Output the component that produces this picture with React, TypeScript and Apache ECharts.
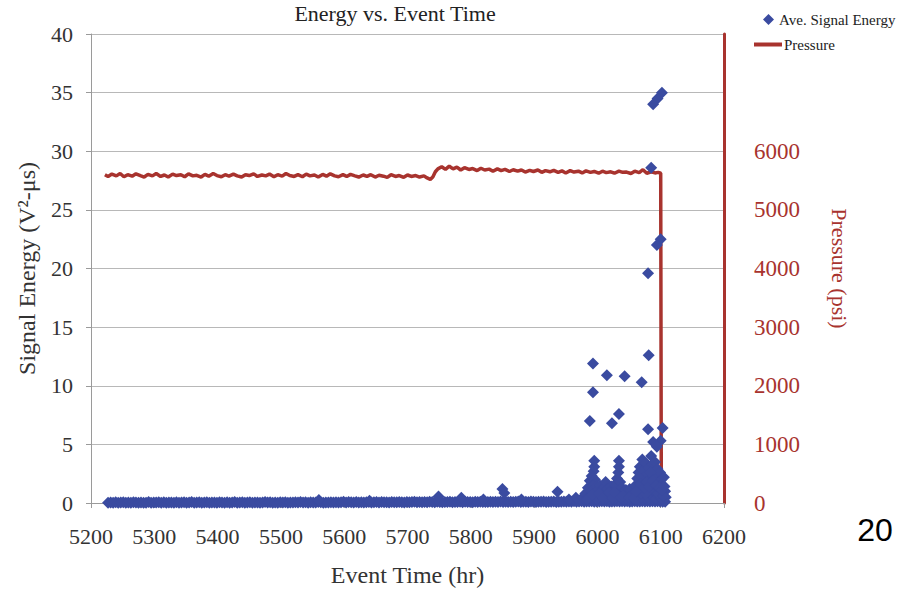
import React, { useEffect, useRef } from "react";
import * as echarts from "echarts";

const SERIF = "'Liberation Serif', 'Times New Roman', serif";
const SANS = "'Liberation Sans', Arial, sans-serif";
const BLUE = "#3a4ba0";
const RED = "#a8332e";

// Event time axis ticks (hr)
const timeTicks = [5200, 5300, 5400, 5500, 5600, 5700, 5800, 5900, 6000, 6100, 6200];

// Continuous background of low-energy hits
const bandTimes = [
  5227, 5231, 5235, 5239, 5243, 5247, 5251, 5255, 5259, 5263, 5267, 5271, 5275, 5279, 5283,
  5287, 5291, 5295, 5299, 5303, 5307, 5311, 5315, 5319, 5323, 5327, 5331, 5335, 5339, 5343,
  5347, 5351, 5355, 5359, 5363, 5367, 5371, 5375, 5379, 5383, 5387, 5391, 5395, 5399, 5403,
  5407, 5411, 5415, 5419, 5423, 5427, 5431, 5435, 5439, 5443, 5447, 5451, 5455, 5459, 5463,
  5467, 5471, 5475, 5479, 5483, 5487, 5491, 5495, 5499, 5503, 5507, 5511, 5515, 5519, 5523,
  5527, 5531, 5535, 5539, 5543, 5547, 5551, 5555, 5559, 5563, 5567, 5571, 5575, 5579, 5583,
  5587, 5591, 5595, 5599, 5603, 5607, 5611, 5615, 5619, 5623, 5627, 5631, 5635, 5639, 5643,
  5647, 5651, 5655, 5659, 5663, 5667, 5671, 5675, 5679, 5683, 5687, 5691, 5695, 5699, 5703,
  5707, 5711, 5715, 5719, 5723, 5727, 5731, 5735, 5739, 5743, 5747, 5751, 5755, 5759, 5763,
  5767, 5771, 5775, 5779, 5783, 5787, 5791, 5795, 5799, 5803, 5807, 5811, 5815, 5819, 5823,
  5827, 5831, 5835, 5839, 5843, 5847, 5851, 5855, 5859, 5863, 5867, 5871, 5875, 5879, 5883,
  5887, 5891, 5895, 5899, 5903, 5907, 5911, 5915, 5919, 5923, 5927, 5931, 5935, 5939, 5943,
  5947, 5951, 5955, 5959, 5963, 5967, 5971, 5975, 5979, 5983, 5987, 5991, 5995, 5999, 6003,
  6007, 6011, 6015, 6019, 6023, 6027, 6031, 6035, 6039, 6043, 6047, 6051, 6055, 6059, 6063,
  6067, 6071, 6075, 6079, 6083, 6087, 6091, 6095, 6099, 6103, 6107,
];
const bandEnergy = [
  0.02, 0.05, 0.03, 0.06, 0.02, 0.04, 0.07, 0.03, 0.05, 0.02, 0.06, 0.04, 0.03, 0.05, 0.02,
  0.03, 0.08, 0.02, 0.05, 0.04, 0.06, 0.03, 0.07, 0.02, 0.05, 0.04, 0.03, 0.06, 0.02, 0.04,
  0.06, 0.02, 0.05, 0.08, 0.03, 0.04, 0.06, 0.02, 0.05, 0.07, 0.03, 0.04, 0.05, 0.02, 0.06,
  0.05, 0.03, 0.06, 0.02, 0.04, 0.08, 0.03, 0.05, 0.06, 0.02, 0.04, 0.07, 0.03, 0.05, 0.04,
  0.03, 0.05, 0.09, 0.04, 0.06, 0.03, 0.05, 0.02, 0.07, 0.04, 0.06, 0.03, 0.05, 0.04, 0.06,
  0.05, 0.08, 0.04, 0.06, 0.03, 0.07, 0.05, 0.04, 0.09, 0.06, 0.03, 0.05, 0.04, 0.07, 0.05,
  0.07, 0.04, 0.06, 0.1, 0.05, 0.08, 0.06, 0.05, 0.09, 0.05, 0.07, 0.04, 0.06, 0.08, 0.05,
  0.06, 0.08, 0.05, 0.09, 0.07, 0.06, 0.05, 0.08, 0.06, 0.07, 0.09, 0.06, 0.05, 0.08, 0.07,
  0.08, 0.1, 0.07, 0.09, 0.06, 0.08, 0.06, 0.1, 0.09, 0.07, 0.11, 0.08, 0.07, 0.09, 0.08,
  0.1, 0.07, 0.09, 0.08, 0.11, 0.07, 0.1, 0.08, 0.09, 0.07, 0.1, 0.08, 0.11, 0.09, 0.08,
  0.09, 0.11, 0.08, 0.1, 0.09, 0.12, 0.08, 0.1, 0.09, 0.11, 0.08, 0.1, 0.12, 0.09, 0.1,
  0.11, 0.09, 0.12, 0.1, 0.08, 0.11, 0.1, 0.12, 0.09, 0.11, 0.1, 0.13, 0.09, 0.11, 0.1,
  0.12, 0.1, 0.13, 0.11, 0.14, 0.1, 0.12, 0.15, 0.11, 0.13, 0.12, 0.14, 0.11, 0.13, 0.12,
  0.14, 0.12, 0.15, 0.11, 0.13, 0.12, 0.14, 0.13, 0.15, 0.12, 0.14, 0.11, 0.13, 0.15, 0.12,
  0.13, 0.15, 0.12, 0.14, 0.13, 0.15, 0.12, 0.14, 0.13, 0.11, 0.1,
];

// Isolated small hits along the hold period
const minorEvents = [
  [5560, 0.25], [5640, 0.2], [5749, 0.55], [5785, 0.45], [5820, 0.3],
  [5850, 1.2], [5853, 0.85], [5880, 0.3], [5937, 0.95], [5955, 0.3], [5966, 0.45],
];

// Dense activity before burst (0-4 V²-µs)
const clusterEvents = [
  [5977, 0.5], [5981, 0.8], [5985, 1.3], [5988, 1.9], [5991, 2.3], [5994, 2.7],
  [5995, 3.1], [5995, 3.6], [5996, 2.0], [5993, 1.5], [5990, 1.0], [5998, 1.4],
  [6001, 1.1], [6004, 1.5], [6007, 0.9], [6010, 1.3], [6013, 1.8], [6016, 1.2],
  [6019, 0.8], [6022, 1.4], [6025, 1.0], [6028, 1.6], [6031, 2.1], [6033, 2.6],
  [6034, 3.1], [6034, 3.6], [6036, 1.8], [6039, 1.3], [6042, 0.9], [6045, 1.1],
  [6048, 0.7], [6051, 1.2], [6054, 0.6], [6057, 0.9], [6060, 1.5], [6063, 2.1],
  [6065, 2.6], [6067, 3.1], [6069, 2.3], [6071, 3.7], [6073, 2.8], [6075, 1.9],
  [6077, 3.4], [6079, 2.5], [6081, 3.0], [6083, 2.0], [6085, 4.0], [6087, 3.3],
  [6089, 2.6], [6091, 3.5], [6093, 2.2], [6095, 2.9], [6097, 1.7], [6099, 2.6],
  [6101, 2.0], [6103, 1.4], [6105, 2.2], [6107, 1.0], [6108, 0.5], [5985, 0.5],
  [6000, 0.6], [6015, 0.5], [6030, 0.7], [6045, 0.4], [6060, 0.6], [6070, 1.2],
  [6080, 1.0], [6090, 1.2], [6100, 0.9], [6066, 0.7], [6076, 0.8], [6086, 1.6],
  [6096, 0.8], [6104, 0.6], [5983, 0.3], [5992, 0.7], [6003, 0.8], [6009, 0.4],
  [6018, 0.9], [6024, 0.4], [6027, 0.9], [6037, 0.5], [6041, 0.6], [6050, 0.5],
  [6058, 0.4], [6062, 1.0], [6068, 1.6], [6074, 1.3], [6078, 1.8], [6082, 1.4],
  [6084, 2.6], [6088, 1.9], [6092, 1.5], [6098, 1.3], [6102, 1.1], [6106, 1.4],
];

// Lower layer of the pre-burst activity (sub-1 V²-µs hits)
const clusterFill = [
  [5979, 0.3], [5982, 0.55], [5986, 0.8], [5989, 0.45], [5992, 1.1], [5997, 0.9],
  [5999, 0.35], [6002, 0.5], [6005, 0.75], [6008, 1.0], [6011, 0.6], [6014, 0.9],
  [6017, 0.35], [6020, 1.1], [6023, 0.6], [6026, 1.2], [6029, 0.45], [6032, 1.0],
  [6035, 1.3], [6038, 0.8], [6040, 1.0], [6043, 0.55], [6046, 0.8], [6049, 0.3],
  [6052, 0.8], [6056, 0.5], [6059, 0.8], [6061, 0.35], [6064, 1.2], [6067, 0.9],
  [6069, 0.45], [6072, 0.8], [6075, 0.5], [6077, 1.1], [6079, 0.6], [6081, 0.4],
  [6083, 1.0], [6085, 0.6], [6087, 1.2], [6089, 0.5], [6091, 0.9], [6093, 0.4],
  [6095, 1.3], [6097, 0.6], [6099, 1.0], [6101, 0.4], [6103, 0.9], [6105, 0.5],
];

// High-energy hits leading to failure
const peakEvents = [
  [6102, 35.0], [6095, 34.5], [6088, 34.0], [6085, 28.6], [6100, 22.5],
  [6094, 22.0], [6080, 19.6], [6081, 12.6], [5993, 11.9], [6015, 10.9],
  [6043, 10.8], [6070, 10.3], [5993, 9.45], [5988, 7.0], [6034, 7.6],
  [6023, 6.8], [6080, 6.3], [6103, 6.4], [6088, 5.2], [6100, 5.3], [6094, 4.8],
];

// Vessel pressure record (hr, psi)
const pressureTimes = [
  5222, 5227, 5233, 5240, 5246, 5252, 5258, 5265, 5271, 5278, 5284, 5290,
  5297, 5303, 5310, 5316, 5322, 5329, 5335, 5342, 5348, 5354, 5361, 5367,
  5374, 5380, 5386, 5393, 5399, 5406, 5412, 5418, 5425, 5431, 5438, 5444,
  5450, 5457, 5463, 5470, 5476, 5482, 5489, 5495, 5502, 5508, 5514, 5521,
  5527, 5534, 5540, 5546, 5553, 5559, 5566, 5572, 5578, 5585, 5591, 5598,
  5604, 5610, 5617, 5623, 5630, 5636, 5642, 5649, 5655, 5662, 5668, 5674,
  5681, 5687, 5694, 5700, 5706, 5713, 5719, 5726, 5731, 5736, 5740, 5744,
  5748, 5754, 5760, 5766, 5772, 5778, 5784, 5790, 5797, 5803, 5810, 5816,
  5822, 5829, 5835, 5842, 5848, 5854, 5861, 5867, 5874, 5880, 5886, 5893,
  5899, 5906, 5912, 5918, 5925, 5931, 5938, 5944, 5950, 5957, 5963, 5970,
  5976, 5982, 5989, 5995, 6002, 6008, 6014, 6021, 6027, 6034, 6040, 6046,
  6053, 6059, 6066, 6072, 6078, 6085, 6091, 6096, 6100, 6101,
];
const pressurePsi = [
  5600, 5570, 5610, 5580, 5620, 5565, 5600, 5575, 5615, 5585, 5560, 5605,
  5580, 5620, 5570, 5595, 5560, 5610, 5585, 5600, 5565, 5615, 5580, 5590,
  5560, 5605, 5575, 5620, 5585, 5565, 5600, 5575, 5610, 5580, 5560, 5600,
  5585, 5615, 5570, 5595, 5580, 5610, 5565, 5600, 5575, 5620, 5585, 5570,
  5600, 5565, 5610, 5580, 5595, 5560, 5605, 5575, 5615, 5580, 5565, 5600,
  5570, 5605, 5580, 5560, 5595, 5570, 5600, 5560, 5590, 5575, 5555, 5600,
  5570, 5585, 5555, 5595, 5570, 5585, 5560, 5580, 5545, 5520, 5560, 5650,
  5700, 5735, 5690, 5745, 5700, 5730, 5680, 5720, 5690, 5705, 5670, 5710,
  5680, 5695, 5660, 5700, 5670, 5690, 5655, 5685, 5660, 5680, 5645, 5675,
  5655, 5680, 5640, 5670, 5650, 5675, 5640, 5665, 5630, 5670, 5645, 5660,
  5630, 5665, 5640, 5655, 5625, 5660, 5635, 5650, 5625, 5660, 5640, 5645,
  5620, 5660, 5635, 5685, 5625, 5650, 5630, 5640, 5625, 0,
];

export default function App() {
  const ref = useRef<HTMLDivElement>(null);

  useEffect(() => {
    if (!ref.current) return;
    const chart = echarts.init(ref.current, undefined, { renderer: "svg" });

    const scatterData = [
      ...bandTimes.map((t, i) => [t, bandEnergy[i]]),
      ...minorEvents,
      ...clusterFill,
      ...clusterEvents,
      ...peakEvents,
    ];
    const pressureData = pressureTimes.map((t, i) => [t, pressurePsi[i]]);

    chart.setOption({
      animation: false,
      backgroundColor: "#ffffff",
      textStyle: { fontFamily: SERIF },
      grid: { left: 91, right: 195, top: 34, bottom: 88, containLabel: false },
      legend: [
        {
          data: [{ name: "Ave. Signal Energy", icon: "diamond" }],
          left: 758,
          top: 7,
          itemWidth: 11,
          itemHeight: 11,
          itemGap: 0,
          textStyle: { fontFamily: SERIF, fontSize: 15, color: "#222" },
        },
        {
          data: [{ name: "Pressure", icon: "rect" }],
          left: 749,
          top: 32,
          itemWidth: 28,
          itemHeight: 4,
          textStyle: { fontFamily: SERIF, fontSize: 15, color: "#222", padding: [0, 0, 0, -3] },
        },
      ],
      xAxis: {
        type: "value",
        min: timeTicks[0],
        max: timeTicks[timeTicks.length - 1],
        interval: 100,
        name: "Event Time (hr)",
        nameLocation: "middle",
        nameGap: 60,
        nameTextStyle: { fontFamily: SERIF, fontSize: 24, color: "#333" },
        axisLine: { show: true, lineStyle: { color: "#9a9a9a", width: 1 } },
        axisTick: { show: true, length: 5, lineStyle: { color: "#9a9a9a" } },
        axisLabel: {
          fontFamily: SERIF,
          fontSize: 22,
          color: "#333",
          margin: 22,
          formatter: (v: number) => String(v),
        },
        splitLine: { show: false },
      },
      yAxis: [
        {
          type: "value",
          min: 0,
          max: 40,
          interval: 5,
          name: "Signal Energy (V²-μs)",
          nameLocation: "middle",
          nameGap: 52,
          nameTextStyle: { fontFamily: SERIF, fontSize: 24, color: "#333" },
          axisLine: { show: true, lineStyle: { color: "#9a9a9a", width: 1 } },
          axisTick: { show: true, length: 5, lineStyle: { color: "#9a9a9a" } },
          axisLabel: { fontFamily: SERIF, fontSize: 22, color: "#333", margin: 18 },
          splitLine: { show: true, lineStyle: { color: "#b8b8b8", width: 1 } },
        },
        {
          type: "value",
          position: "right",
          min: 0,
          max: 8000,
          interval: 1000,
          name: "Pressure (psi)",
          nameLocation: "middle",
          nameGap: 104,
          nameRotate: -90,
          nameTextStyle: { fontFamily: SERIF, fontSize: 22, color: RED },
          axisLine: { show: true, lineStyle: { color: RED, width: 3 } },
          axisTick: { show: false },
          axisLabel: {
            fontFamily: SERIF,
            fontSize: 23,
            color: RED,
            margin: 30,
            formatter: (v: number) => (v > 6000 ? "" : String(v)),
          },
          splitLine: { show: false },
        },
      ],
      series: [
        {
          name: "Pressure",
          type: "line",
          yAxisIndex: 1,
          data: pressureData,
          showSymbol: false,
          symbol: "none",
          lineStyle: { color: RED, width: 3.5 },
          itemStyle: { color: RED },
          z: 2,
        },
        {
          name: "Ave. Signal Energy",
          type: "scatter",
          yAxisIndex: 0,
          data: scatterData,
          symbol: "diamond",
          symbolSize: 12,
          itemStyle: { color: BLUE, opacity: 1 },
          z: 3,
        },
      ],
      graphic: [
        {
          type: "text",
          x: 395,
          y: 2,
          style: {
            text: "Energy vs. Event Time",
            align: "center",
            verticalAlign: "top",
            font: `22px ${SERIF}`,
            fill: "#222",
          },
        },
        {
          type: "text",
          x: 875,
          y: 530,
          style: {
            text: "20",
            align: "center",
            verticalAlign: "middle",
            font: `32px ${SANS}`,
            fill: "#000",
          },
        },
      ],
    });

    return () => chart.dispose();
  }, []);

  return (
    <div
      ref={ref}
      style={{ position: "fixed", left: 0, top: 0, width: 919, height: 592, background: "#fff" }}
    />
  );
}
